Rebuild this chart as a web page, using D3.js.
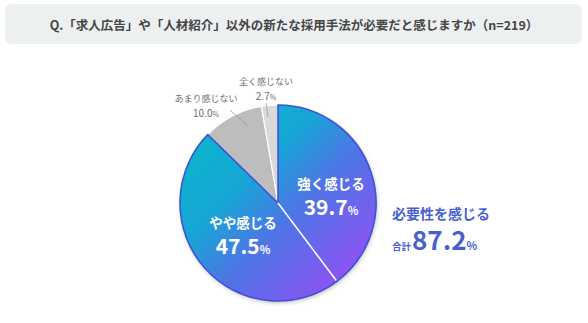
<!DOCTYPE html>
<html>
<head>
<meta charset="utf-8">
<script src="https://cdn.jsdelivr.net/npm/d3@7"></script>
<style>
  body { margin: 0; background: #fff; }
  svg text { font-family: "Noto Sans CJK JP", "Noto Sans", sans-serif; }
</style>
</head>
<body>
<div id="chart"></div>
<script>
// data
var labels = ["強く感じる", "やや感じる", "あまり感じない", "全く感じない"];
var values = [39.7, 47.5, 10.0, 2.7];
var title = "Q.「求人広告」や「人材紹介」以外の新たな採用手法が必要だと感じますか（n=219）";
var totalLabel = "必要性を感じる";
var totalValue = 87.2;

var width = 588, height = 323;
var cx = 278, cy = 203, r = 98;

var svg = d3.select("#chart")
  .append("svg")
  .attr("width", width)
  .attr("height", height);

var defs = svg.append("defs");
// gradient coords are in the pie group's local space (centre at 0,0)
var grad = defs.append("linearGradient")
  .attr("id", "blueGrad")
  .attr("gradientUnits", "userSpaceOnUse")
  .attr("x1", -r * 0.7).attr("y1", -r * 0.7)
  .attr("x2", r * 0.7).attr("y2", r * 0.7);
grad.append("stop").attr("offset", "0%").attr("stop-color", "#0bb4cc");
grad.append("stop").attr("offset", "30%").attr("stop-color", "#17a6d6");
grad.append("stop").attr("offset", "60%").attr("stop-color", "#4f74e6");
grad.append("stop").attr("offset", "100%").attr("stop-color", "#8a55f3");

var shadow = defs.append("filter").attr("id", "shadow")
  .attr("x", "-20%").attr("y", "-20%").attr("width", "140%").attr("height", "140%");
shadow.append("feDropShadow")
  .attr("dx", 1).attr("dy", 2).attr("stdDeviation", 2)
  .attr("flood-color", "#000").attr("flood-opacity", 0.25);

// title box
svg.append("rect")
  .attr("x", 5).attr("y", 4)
  .attr("width", 577).attr("height", 40)
  .attr("rx", 6)
  .attr("fill", "#edf0f1");
svg.append("text")
  .attr("x", 294).attr("y", 24)
  .attr("text-anchor", "middle")
  .attr("dominant-baseline", "central")
  .attr("font-size", 12.5)
  .attr("font-weight", "bold")
  .attr("fill", "#454545")
  .text(title);

// pie
var pie = d3.pie().sort(null).value(function (d) { return d; });
var arcs = pie(values);
var arc = d3.arc().innerRadius(0).outerRadius(r);
var fills = ["url(#blueGrad)", "url(#blueGrad)", "#bdbdbd", "#d9d9d9"];
var strokes = ["#3d52d9", "#3d52d9", "#ffffff", "#ffffff"];

var g = svg.append("g")
  .attr("transform", "translate(" + cx + "," + cy + ")");

g.append("circle").attr("r", r).attr("fill", "#fff").attr("filter", "url(#shadow)");

// gray slices first, blue slices on top so their outline shows
var order = [2, 3, 0, 1];
g.selectAll("path.slice")
  .data(order.map(function (i) { return { a: arcs[i], i: i }; }))
  .enter()
  .append("path")
  .attr("class", "slice")
  .attr("d", function (d) { return arc(d.a); })
  .attr("fill", function (d) { return fills[d.i]; })
  .attr("stroke", function (d) { return strokes[d.i]; })
  .attr("stroke-width", function (d) { return d.i < 2 ? 1.6 : 1.2; })
  .attr("stroke-linejoin", "round");

// white separator between the two blue slices
var sepAngle = arcs[0].endAngle;
g.append("line")
  .attr("x1", 0).attr("y1", 0)
  .attr("x2", (r - 1) * Math.sin(sepAngle))
  .attr("y2", -(r - 1) * Math.cos(sepAngle))
  .attr("stroke", "#fff")
  .attr("stroke-width", 1.6);

// inside labels
var inside = [
  { i: 0, x: 53, y: -14 },
  { i: 1, x: -35, y: 25 }
];
inside.forEach(function (p) {
  g.append("text")
    .attr("x", p.x).attr("y", p.y)
    .attr("text-anchor", "middle")
    .attr("fill", "#fff")
    .attr("font-weight", "bold")
    .attr("font-size", 13.5)
    .text(labels[p.i]);
  var v = g.append("text")
    .attr("x", p.x).attr("y", p.y + 26)
    .attr("text-anchor", "middle")
    .attr("fill", "#fff")
    .attr("font-weight", "bold");
  v.append("tspan").attr("font-size", 21).text(values[p.i].toFixed(1));
  v.append("tspan").attr("font-size", 11).text("%");
});

// outside labels with leader lines
var outside = [
  { i: 2, x: 206, y: 102, lx1: 230, ly1: 110, lx2: 248, ly2: 126 },
  { i: 3, x: 266, y: 85, lx1: 266, ly1: 103, lx2: 268, ly2: 117 }
];
outside.forEach(function (p) {
  svg.append("text")
    .attr("x", p.x).attr("y", p.y)
    .attr("text-anchor", "middle")
    .attr("font-size", 9)
    .attr("fill", "#6f6f6f")
    .text(labels[p.i]);
  var v = svg.append("text")
    .attr("x", p.x).attr("y", p.y + 14.5)
    .attr("text-anchor", "middle")
    .attr("fill", "#6f6f6f");
  v.append("tspan").attr("font-size", 10).text(values[p.i].toFixed(1));
  v.append("tspan").attr("font-size", 7).text("%");
  svg.append("line")
    .attr("x1", p.lx1).attr("y1", p.ly1)
    .attr("x2", p.lx2).attr("y2", p.ly2)
    .attr("stroke", "#9a9a9a")
    .attr("stroke-width", 0.8);
});

// total callout
svg.append("text")
  .attr("x", 441).attr("y", 219)
  .attr("text-anchor", "middle")
  .attr("font-size", 14)
  .attr("font-weight", "bold")
  .attr("fill", "#4a5fcf")
  .text(totalLabel);
var tot = svg.append("text")
  .attr("x", 392).attr("y", 250)
  .attr("fill", "#4a5fcf")
  .attr("font-weight", "bold");
tot.append("tspan").attr("font-size", 9.5).text("合計");
tot.append("tspan").attr("font-size", 26).attr("dx", 1).text(totalValue.toFixed(1));
tot.append("tspan").attr("font-size", 11).text("%");
</script>
</body>
</html>
